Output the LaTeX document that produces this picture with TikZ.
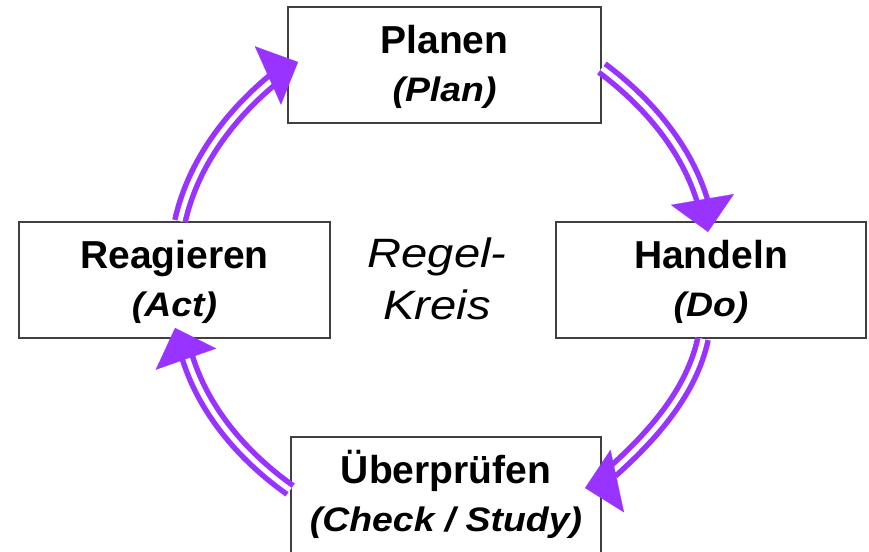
\documentclass[tikz,border=0pt]{standalone}
\usepackage{fontspec}
\setmainfont{Liberation Sans}
\newfontfamily\stretchfont[FakeStretch=1.1]{Liberation Sans}
\newfontfamily\centrefont[FakeStretch=1.15]{Liberation Sans}
\usetikzlibrary{arrows.meta}
\definecolor{cyclepurple}{HTML}{9933FF}
\definecolor{boxline}{HTML}{404040}
\tikzset{
  stepbox/.style={draw=boxline, line width=1.8pt, fill=white,
    minimum width=310pt, minimum height=116pt, inner sep=0pt, align=center,
    font=\bfseries\fontsize{39}{48}\selectfont},
  shaft/.style={draw=cyclepurple, line width=5.5pt, double=white, double distance=5pt, looseness=0.87},
  tiphead/.style={draw=cyclepurple, fill=cyclepurple, line width=0.2pt,
    -{Triangle[length=33pt,width=64pt]}}
}
\newcommand{\subline}[1]{{\stretchfont\bfseries\itshape\fontsize{34}{48}\selectfont #1\rule[-8pt]{0pt}{8pt}}}
\begin{document}
\begin{tikzpicture}[x=1pt,y=1pt]
  \clip (0,0) rectangle (869,551);
  \fill[white] (0,0) rectangle (869,551);
  % boxes
  \node[stepbox, minimum width=313pt] (plan) at (444.5,486) {\rule{0pt}{33pt}Planen\\\subline{(Plan)}};
  \node[stepbox, minimum width=311pt] (act) at (174.5,271) {\rule{0pt}{33pt}Reagieren\\\subline{(Act)}};
  \node[stepbox] (do) at (711,271) {\rule{0pt}{33pt}Handeln\\\subline{(Do)}};
  \node[stepbox] (check) at (446,56) {\rule{0pt}{33pt}Überprüfen\\\subline{(Check / Study)}};
  % centre text
  \node[align=center, inner sep=0pt, font=\centrefont\itshape\fontsize{41}{52}\selectfont] (regel) at (437,272) {\rule{0pt}{30pt}Regel-\\Kreis};
  % shaft ends and arrow tips
  \coordinate (e1) at (703,348);  \coordinate (b1) at (702.5,351); \coordinate (t1) at (708,319);
  \coordinate (e2) at (612,79);   \coordinate (b2) at (617.5,70);  \coordinate (t2) at (585,63);
  \coordinate (e3) at (186,198);  \coordinate (b3) at (185,194.5); \coordinate (t3) at (175,223);
  \coordinate (e4) at (276,474);  \coordinate (b4) at (269,476);   \coordinate (t4) at (298,489);
  % shafts
  \draw[shaft] ([yshift=-3pt]plan.east) to[out=-36.9,in=106.3] (e1);
  \draw[shaft] ([xshift=-8pt]do.south) to[out=-102.4,in=41.9] (e2);
  \draw[shaft] ([yshift=5pt]check.west) to[out=144.6,in=-74] (e3);
  \draw[shaft] ([xshift=5.5pt]act.north) to[out=77.4,in=218.9] (e4);
  % heads
  \draw[tiphead] (b1) -- (t1);
  \draw[tiphead] (b2) -- (t2);
  \draw[tiphead] (b3) -- (t3);
  \draw[tiphead] (b4) -- (t4);
\end{tikzpicture}
\end{document}
